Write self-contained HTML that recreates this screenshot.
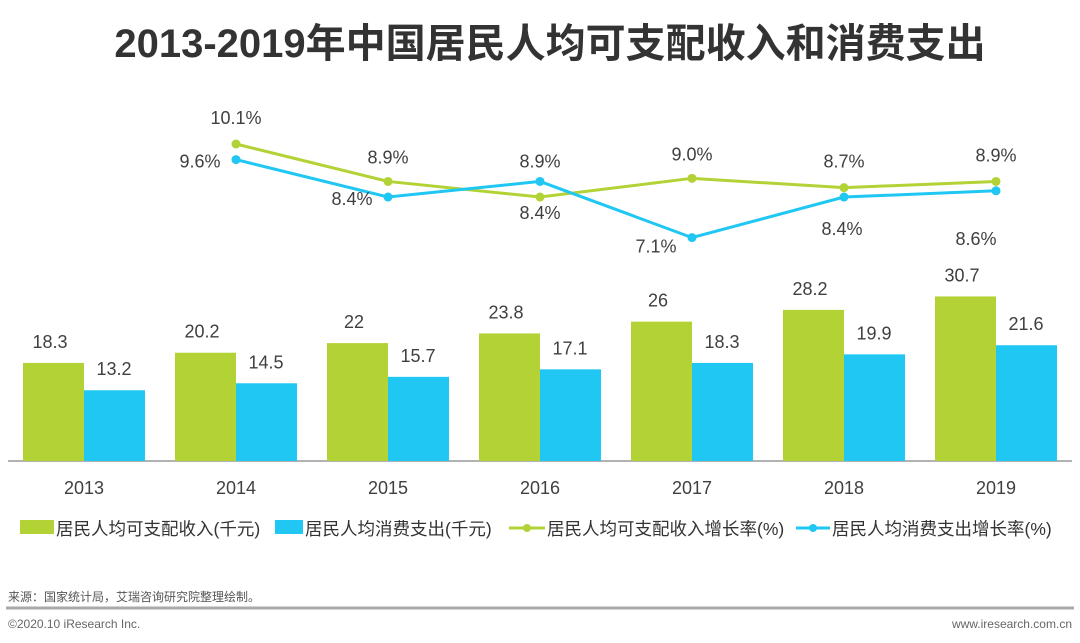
<!DOCTYPE html>
<html><head><meta charset="utf-8"><style>
body{margin:0;background:#fff;font-family:"Liberation Sans","Noto Sans CJK SC",sans-serif;}
#wrap{position:relative;width:1080px;height:643px;overflow:hidden}
</style></head><body><div id="wrap">
<svg id="svg" width="1080" height="643" style="position:absolute;left:0;top:0">
<text x="550" y="57" text-anchor="middle" font-size="40" font-weight="bold" fill="#333" font-family="Liberation Sans,Noto Sans CJK SC,sans-serif">2013-2019年中国居民人均可支配收入和消费支出</text>
<line x1="8" y1="461" x2="1072" y2="461" stroke="#999" stroke-width="1.5"/>
<g id="legend" font-size="17.5" fill="#333">
<g><rect x="20" y="520" width="34" height="14" fill="#B3D235"/><text x="56" y="535">居民人均可支配收入(千元)</text></g>
<g><rect x="275" y="520" width="28" height="14" fill="#1FC7F2"/><text x="305" y="535">居民人均消费支出(千元)</text></g>
<g><line x1="509" y1="528" x2="545" y2="528" stroke="#B3D235" stroke-width="3"/><circle cx="527" cy="528" r="4" fill="#B3D235"/><text x="547" y="535">居民人均可支配收入增长率(%)</text></g>
<g><line x1="796" y1="528" x2="830" y2="528" stroke="#1FC7F2" stroke-width="3"/><circle cx="813" cy="528" r="4" fill="#1FC7F2"/><text x="832" y="535">居民人均消费支出增长率(%)</text></g>
</g>
<text x="8" y="601" font-size="12" fill="#555">来源：国家统计局，艾瑞咨询研究院整理绘制。</text>
<line x1="6" y1="608" x2="1074" y2="608" stroke="#aaa" stroke-width="3"/>
<text x="8" y="628" font-size="12" fill="#666">©2020.10 iResearch Inc.</text>
<text x="1072" y="628" font-size="12" fill="#666" text-anchor="end">www.iresearch.com.cn</text>
</svg></div>
<script>
const categories=["2013","2014","2015","2016","2017","2018","2019"];
const income=[18.3,20.2,22,23.8,26,28.2,30.7];
const consumption=[13.2,14.5,15.7,17.1,18.3,19.9,21.6];
const incomeGrowth=[null,10.1,8.9,8.4,9.0,8.7,8.9];
const consGrowth=[null,9.6,8.4,8.9,7.1,8.4,8.6];
const incomeLabelOff=[null,[0,-20],[0,-18],[0,22],[0,-18],[0,-20],[0,-20]];
const consLabelOff=[null,[-36,8],[-36,8],[0,-14],[-36,15],[-2,38],[-20,54]];
const svg=document.getElementById('svg');const NS='http://www.w3.org/2000/svg';
const xC=i=>84+152*i;
const yBar=v=>461-v*5.36;
const yLine=v=>144-(v-10.1)*31.2;
function mk(t,a){const e=document.createElementNS(NS,t);for(const k in a)e.setAttribute(k,a[k]);svg.appendChild(e);return e;}
function txt(x,y,s,size,anchor){const e=mk('text',{x:x,y:y,'font-size':size,fill:'#404040','text-anchor':anchor||'middle'});e.textContent=s;return e;}
categories.forEach((c,i)=>{
 const cx=xC(i);
 let r=mk('rect',{x:cx-61,y:yBar(income[i]),width:61,height:income[i]*5.36,fill:'#B3D235'});
 
 
 let t=txt(cx-34,yBar(income[i])-15,String(income[i]),18);
 
 
 let r2=mk('rect',{x:cx,y:yBar(consumption[i]),width:61,height:consumption[i]*5.36,fill:'#1FC7F2'});
 
 
 let t2=txt(cx+30,yBar(consumption[i])-15,String(consumption[i]),18);
 
 
 let xl=txt(cx,494,c,18);
 
 
});
function line(data,color,offs,name){
 const pts=[];data.forEach((v,i)=>{if(v!=null)pts.push([xC(i),yLine(v),v,i]);});
 let p=mk('polyline',{points:pts.map(p=>p[0]+','+p[1]).join(' '),fill:'none',stroke:color,'stroke-width':3});
 
 
 pts.forEach(q=>{
  let c=mk('circle',{cx:q[0],cy:q[1],r:4.5,fill:color});
  
  
  const o=offs[q[3]];
  let t=txt(q[0]+o[0],q[1]+o[1],q[2].toFixed(1)+'%',18);
  
  
 });
}
line(incomeGrowth,'#B3D235',incomeLabelOff,'income-growth');
line(consGrowth,'#1FC7F2',consLabelOff,'consumption-growth');
</script></body></html>
